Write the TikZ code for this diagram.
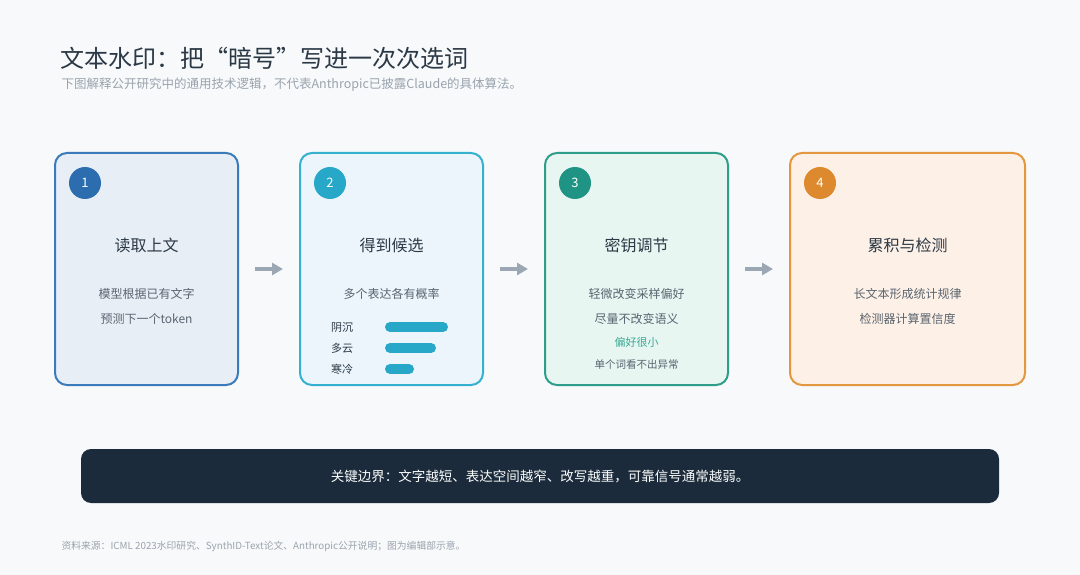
\documentclass[tikz,border=0pt]{standalone}
\usepackage{fontspec}
\setmainfont{Noto Sans CJK SC}
\usetikzlibrary{arrows.meta}

\definecolor{pagebg}{HTML}{F7F9FB}
\definecolor{ink}{HTML}{2B3845}
\definecolor{muted}{HTML}{5A6470}
\definecolor{faint}{HTML}{9AA3AD}
\definecolor{arrowgray}{HTML}{9BA7B3}
\definecolor{navy}{HTML}{1B2B3B}
\definecolor{blueline}{HTML}{3C7BBB}
\definecolor{bluefill}{HTML}{E8EEF6}
\definecolor{bluedot}{HTML}{2C6DB0}
\definecolor{cyanline}{HTML}{35B1D0}
\definecolor{cyanfill}{HTML}{EBF5FB}
\definecolor{cyandot}{HTML}{27A8C9}
\definecolor{tealline}{HTML}{2E9E8B}
\definecolor{tealfill}{HTML}{E8F6F2}
\definecolor{tealdot}{HTML}{1F9484}
\definecolor{tealtext}{HTML}{3AA893}
\definecolor{orangeline}{HTML}{E3973F}
\definecolor{orangefill}{HTML}{FDF0E6}
\definecolor{orangedot}{HTML}{DD8A2E}

\begin{document}
\begin{tikzpicture}[x=1pt, y=-1pt]
  \tikzstyle{card}=[rectangle, rounded corners=12pt, line width=2pt, minimum height=232pt,
                    inner sep=0pt]
  \tikzstyle{badge}=[circle, minimum size=32pt, inner sep=0pt, text=white,
                     font=\fontsize{13}{15}\selectfont]
  \tikzstyle{head}=[font=\fontsize{16}{18}\selectfont, text=ink]
  \tikzstyle{body}=[font=\fontsize{12}{14}\selectfont, text=muted]
  \tikzstyle{small}=[font=\fontsize{10.5}{12}\selectfont, text=muted]
  \tikzstyle{arrow}=[-{Triangle[length=11pt, width=12pt]}, line width=4pt, draw=arrowgray,
                     shorten <=16pt, shorten >=16pt]
  \tikzstyle{bar}=[line width=10pt, line cap=round, draw=cyandot]

  % Fundo
  \fill[pagebg] (0,0) rectangle (1080,575);
  \useasboundingbox (0,0) rectangle (1080,575);

  % Titulo
  \node[anchor=west, font=\fontsize{24}{28}\selectfont, text=ink] (title) at (57,58)
    {文本水印：把“暗号”写进一次次选词};
  \node[anchor=west, font=\fontsize{12.5}{14}\selectfont, text=faint] (subtitle) at (58,85)
    {下图解释公开研究中的通用技术逻辑，不代表Anthropic已披露Claude的具体算法。};

  % Cartoes
  \node[card, draw=blueline, fill=bluefill, minimum width=183pt] (c1) at (146.5,269) {};
  \node[card, draw=cyanline, fill=cyanfill, minimum width=183pt] (c2) at (391.5,269) {};
  \node[card, draw=tealline, fill=tealfill, minimum width=183pt] (c3) at (636.5,269) {};
  \node[card, draw=orangeline, fill=orangefill, minimum width=235pt] (c4) at (907.5,269) {};

  % Numeros
  \foreach \i/\c in {1/bluedot, 2/cyandot, 3/tealdot, 4/orangedot}
    \node[badge, fill=\c] (n\i) at ([xshift=31pt, yshift=-31pt]c\i.north west) {\i};

  % Setas
  \draw[arrow] (c1.east) -- (c2.west);
  \draw[arrow] (c2.east) -- (c3.west);
  \draw[arrow] (c3.east) -- (c4.west);

  % Passo 1
  \node[head] (h1) at (146.5,245) {读取上文};
  \node[body] (t1a) at (146.5,294) {模型根据已有文字};
  \node[body] (t1b) at (146.5,319) {预测下一个token};

  % Passo 2
  \node[head] (h2) at (391.5,245) {得到候选};
  \node[body] (t2a) at (391.5,294) {多个表达各有概率};
  \foreach \y/\w/\lab/\nm in {327/443/阴沉/p1, 348/431/多云/p2, 369/409/寒冷/p3} {
    \node[anchor=west, font=\fontsize{11}{13}\selectfont, text=ink, inner sep=0pt]
      (\nm) at (331,\y) {\lab};
    \draw[bar] (390,\y) -- (\w,\y);
  }

  % Passo 3
  \node[head] (h3) at (636.5,245) {密钥调节};
  \node[body] (t3a) at (636.5,294) {轻微改变采样偏好};
  \node[body] (t3b) at (636.5,319) {尽量不改变语义};
  \node[small, text=tealtext, font=\fontsize{11}{13}\selectfont] (t3c) at (636.5,342) {偏好很小};
  \node[small] (t3d) at (636.5,365) {单个词看不出异常};

  % Passo 4
  \node[head] (h4) at (907.5,245) {累积与检测};
  \node[body] (t4a) at (907.5,294) {长文本形成统计规律};
  \node[body] (t4b) at (907.5,319) {检测器计算置信度};

  % Faixa escura
  \node[rectangle, rounded corners=10pt, fill=navy, minimum width=918pt, minimum height=54pt,
        text=white!90!cyanfill, font=\fontsize{13.5}{16}\selectfont] (note) at (540,476)
    {关键边界：文字越短、表达空间越窄、改写越重，可靠信号通常越弱。};

  % Fonte
  \node[anchor=west, font=\fontsize{9.8}{11}\selectfont, text=faint] (source) at (58,546)
    {资料来源：ICML 2023水印研究、SynthID-Text论文、Anthropic公开说明；图为编辑部示意。};
\end{tikzpicture}
\end{document}
